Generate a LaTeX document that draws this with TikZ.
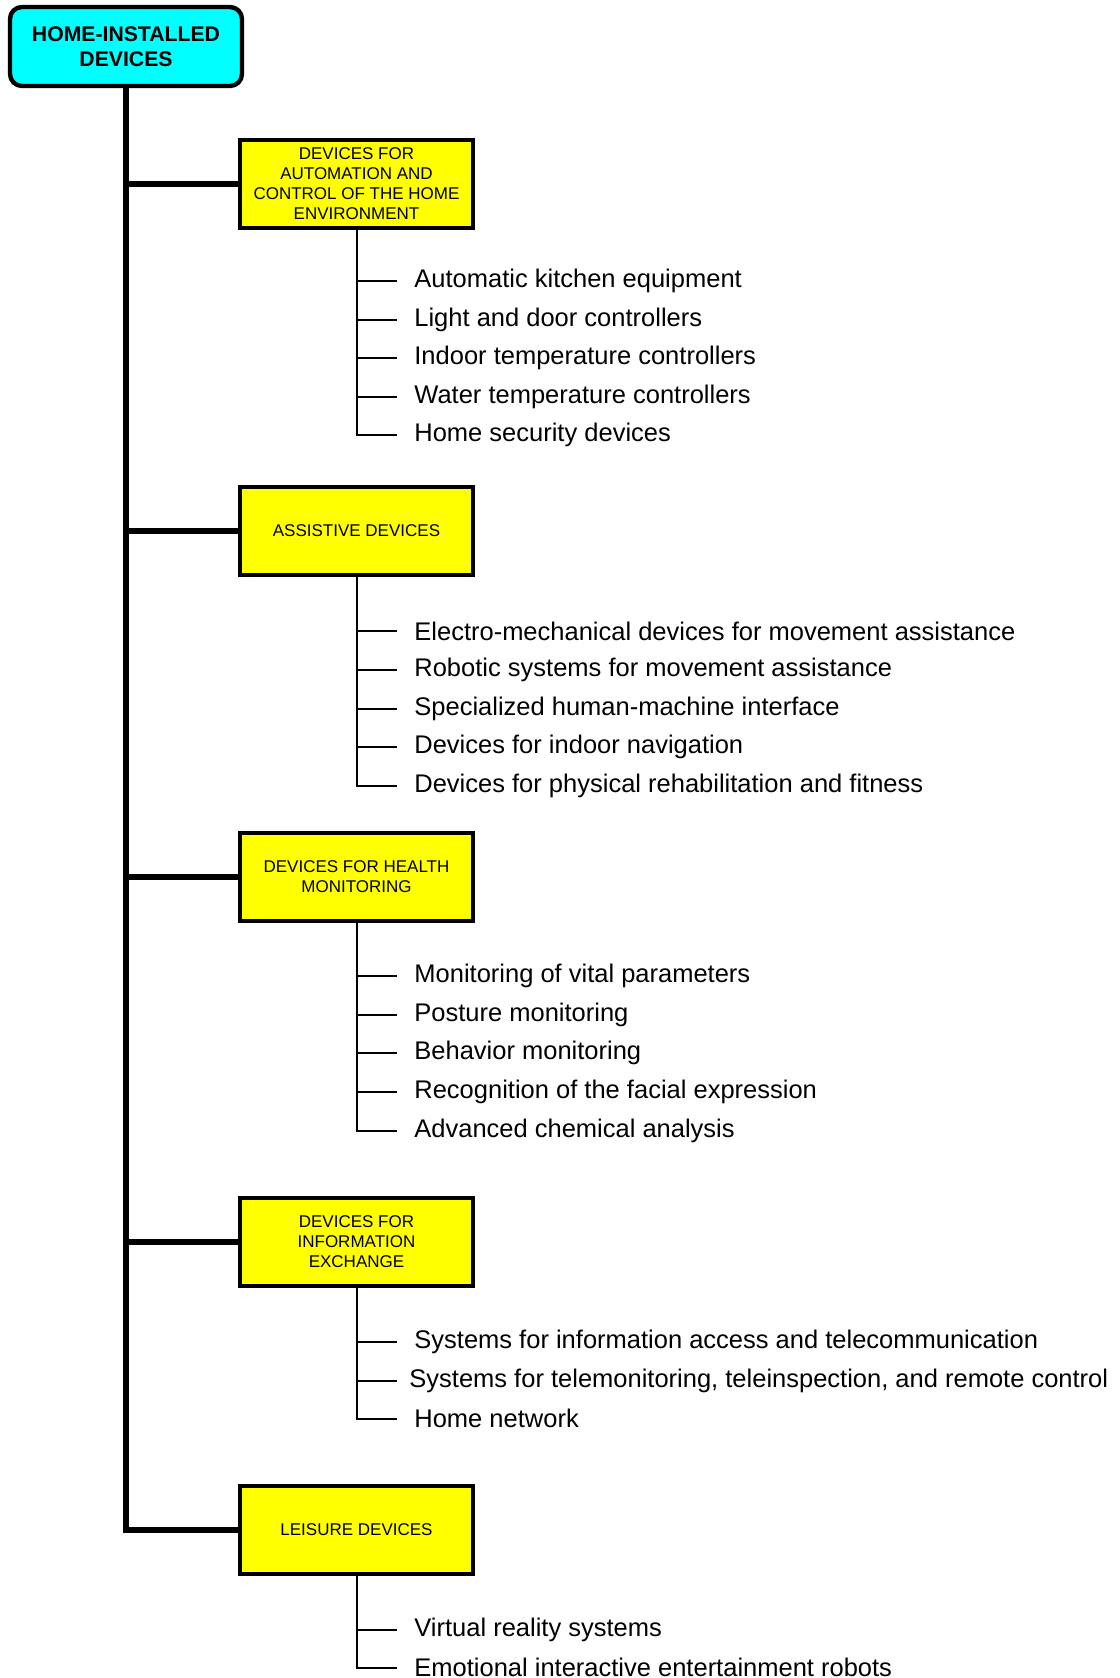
\documentclass[tikz,border=0pt]{standalone}
\usepackage{fontspec}
\setmainfont{Liberation Sans}
\usepackage{tikz}
\usepackage{xcolor}
\usetikzlibrary{positioning}
\definecolor{rootfill}{HTML}{00FFFF}
\definecolor{groupfill}{HTML}{FFFF00}

\begin{document}
\begin{tikzpicture}[x=0.5pt,y=-0.5pt,
  rootbox/.style={draw,line width=2.2pt,rounded corners=6pt,fill=rootfill,
    minimum width=116pt,minimum height=39.5pt,align=center,
    font=\fontsize{10.6}{12.5}\selectfont\bfseries},
  groupbox/.style={draw,line width=2pt,fill=groupfill,
    minimum width=116.5pt,minimum height=44pt,align=center,
    font=\fontsize{8.5}{10}\selectfont},
  item/.style={anchor=west,inner xsep=8.5pt,inner ysep=0pt,
    font=\fontsize{12.75}{15}\selectfont},
  trunk/.style={line width=3pt},
  twig/.style={line width=1pt}]
  \useasboundingbox (0,0) rectangle (1120,1678);
  % root
  \node[rootbox] (root) at (126,46.5) {HOME-INSTALLED\\DEVICES};
  % groups
  \node[groupbox] (auto) at (356.5,184) {DEVICES FOR\\AUTOMATION AND\\CONTROL OF THE HOME\\ENVIRONMENT};
  \node[groupbox] (assist) at (356.5,531) {ASSISTIVE DEVICES};
  \node[groupbox] (health) at (356.5,877) {DEVICES FOR HEALTH\\MONITORING};
  \node[groupbox] (info) at (356.5,1242) {DEVICES FOR\\INFORMATION\\EXCHANGE};
  \node[groupbox] (leisure) at (356.5,1530) {LEISURE DEVICES};
  % trunk
  \draw[trunk] (root.south) |- (leisure.west);
  \foreach \g in {auto,assist,health,info}
    \draw[trunk] (root.south |- \g.west) -- (\g.west);
  % automation items
  \node[item] (au1) at (397,281) {Automatic kitchen equipment};
  \node[item] (au2) at (397,320) {Light and door controllers};
  \node[item] (au3) at (397,358) {Indoor temperature controllers};
  \node[item] (au4) at (397,397) {Water temperature controllers};
  \node[item] (au5) at (397,435) {Home security devices};
  % assistive items
  \node[item] (as1) at (397,631) {Electro-mechanical devices for movement assistance};
  \node[item] (as2) at (397,670) {Robotic systems for movement assistance};
  \node[item] (as3) at (397,708.5) {Specialized human-machine interface};
  \node[item] (as4) at (397,747) {Devices for indoor navigation};
  \node[item] (as5) at (397,785.5) {Devices for physical rehabilitation and fitness};
  % health items
  \node[item] (he1) at (397,976) {Monitoring of vital parameters};
  \node[item] (he2) at (397,1014.5) {Posture monitoring};
  \node[item] (he3) at (397,1053) {Behavior monitoring};
  \node[item] (he4) at (397,1091.5) {Recognition of the facial expression};
  \node[item] (he5) at (397,1131) {Advanced chemical analysis};
  % information items
  \node[item] (in1) at (397,1341.5) {Systems for information access and telecommunication};
  \node[item,inner xsep=6pt] (in2) at (397,1380.5) {Systems for telemonitoring, teleinspection, and remote control};
  \node[item] (in3) at (397,1418.5) {Home network};
  % leisure items
  \node[item] (le1) at (397,1629.5) {Virtual reality systems};
  \node[item] (le2) at (397,1667.5) {Emotional interactive entertainment robots};
  % twigs
  \draw[twig] (auto.south) |- (au5.west);
  \foreach \i in {au1,au2,au3,au4}
    \draw[twig] (auto.south |- \i.west) -- (\i.west);
  \draw[twig] (assist.south) |- (as5.west);
  \foreach \i in {as1,as2,as3,as4}
    \draw[twig] (assist.south |- \i.west) -- (\i.west);
  \draw[twig] (health.south) |- (he5.west);
  \foreach \i in {he1,he2,he3,he4}
    \draw[twig] (health.south |- \i.west) -- (\i.west);
  \draw[twig] (info.south) |- (in3.west);
  \foreach \i in {in1,in2}
    \draw[twig] (info.south |- \i.west) -- (\i.west);
  \draw[twig] (leisure.south) |- (le2.west);
  \draw[twig] (leisure.south |- le1.west) -- (le1.west);
\end{tikzpicture}
\end{document}
